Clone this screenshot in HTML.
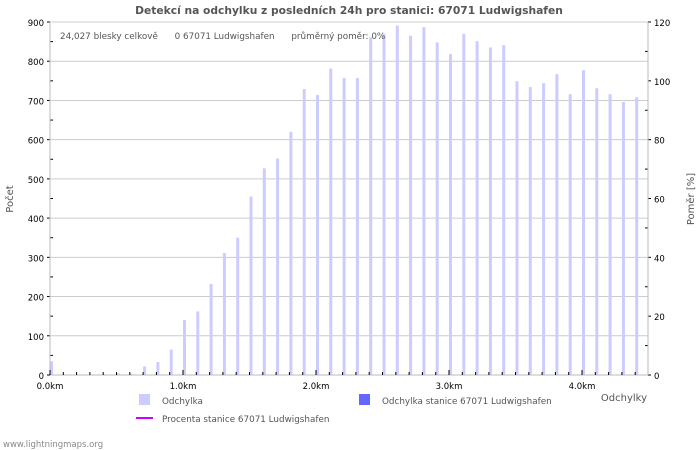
<!DOCTYPE html>
<html><head><meta charset="utf-8"><style>
body{margin:0;background:#fff;}
svg{display:block;font-family:"DejaVu Sans","Liberation Sans",sans-serif;}
</style></head><body>
<svg id="chart" width="700" height="450" viewBox="0 0 700 450" xmlns="http://www.w3.org/2000/svg">
<rect width="700" height="450" fill="#fff"/>
<text x="349" y="14" text-anchor="middle" font-size="10.7" font-weight="bold" fill="#555">Detekcí na odchylku z posledních 24h pro stanici: 67071 Ludwigshafen</text>
<g id="grid"></g>
<g id="bars"></g>
<g id="axes"></g>
<text x="60" y="39" font-size="8.8" fill="#555" xml:space="preserve">24,027 blesky celkově      0 67071 Ludwigshafen      průměrný poměr: 0%</text>
<text transform="translate(13,199) rotate(-90)" text-anchor="middle" font-size="10" fill="#555">Počet</text>
<text transform="translate(694,199) rotate(-90)" text-anchor="middle" font-size="10" fill="#555">Poměr [%]</text>
<text x="647" y="401" text-anchor="end" font-size="10" fill="#555">Odchylky</text>
<g>
<rect x="139" y="394" width="11" height="11" fill="#ccccff"/>
<text x="162" y="404" font-size="8.8" fill="#555">Odchylka</text></g>
<g>
<rect x="359" y="394" width="11" height="11" fill="#6666ff"/>
<text x="382" y="404" font-size="8.8" fill="#555">Odchylka stanice 67071 Ludwigshafen</text></g>
<g>
<rect x="136" y="417" width="17" height="2" fill="#cc00ff"/>
<text x="162" y="422" font-size="8.8" fill="#555">Procenta stanice 67071 Ludwigshafen</text></g>
<text x="3" y="447" font-size="8.5" fill="#888">www.lightningmaps.org</text>
</svg>
<script>
const counts=[35,0,0,0,2,5,3,22,33,65,140,162,232,311,350,455,527,552,620,729,714,781,757,757,861,870,891,865,887,848,818,870,851,835,841,749,734,744,767,716,777,731,716,696,708];
const stationCounts=new Array(45).fill(0);
const leftTicks=[0,100,200,300,400,500,600,700,800,900];
const rightTicks=[0,20,40,60,80,100,120];
const xTickLabels=["0.0km","1.0km","2.0km","3.0km","4.0km"];
const NS="http://www.w3.org/2000/svg";
const L=50,R=648,T=22,B=375;
const y=v=>B-(v/900)*(B-T);
const y2=v=>B-(v/120)*(B-T);
const x=i=>51.5+i*13.3;
function mk(tag,attrs,parent){const e=document.createElementNS(NS,tag);for(const k in attrs)e.setAttribute(k,attrs[k]);parent.appendChild(e);return e;}
const grid=document.getElementById('grid'),bars=document.getElementById('bars'),axes=document.getElementById('axes');
leftTicks.forEach(v=>{
 const g=mk('line',{x1:L,x2:R,y1:y(v),y2:y(v),stroke:'#ccc','stroke-width':1},grid);
 
 
 const t=mk('text',{x:44,y:y(v)+4,'text-anchor':'end','font-size':8.5,fill:'#000'},axes);
 t.textContent=v;
 
 
 mk('line',{x1:L-3,x2:L,y1:y(v),y2:y(v),stroke:'#000'},axes);
 if(v<900) mk('line',{x1:L,x2:L+3,y1:y(v+50),y2:y(v+50),stroke:'#000'},axes);
});
rightTicks.forEach(v=>{
 const t=mk('text',{x:654,y:y2(v)+4,'font-size':8.5,fill:'#000'},axes);
 t.textContent=v;
 
 
 mk('line',{x1:R,x2:R+3,y1:y2(v),y2:y2(v),stroke:'#000'},axes);
 if(v<120) mk('line',{x1:R-3,x2:R,y1:y2(v+10),y2:y2(v+10),stroke:'#000'},axes);
});
mk('line',{x1:L,x2:L,y1:T,y2:B,stroke:'#bbb'},axes);
mk('line',{x1:R,x2:R,y1:T,y2:B,stroke:'#bbb'},axes);
mk('line',{x1:L,x2:R,y1:B,y2:B,stroke:'#bbb'},axes);
counts.forEach((v,i)=>{
 const b=mk('rect',{x:x(i)-1.5,y:y(v),width:3,height:B-y(v),fill:'#ccccff'},bars);
 
 
 if(stationCounts[i]>0){const s=mk('rect',{x:x(i)-1.5,y:y(stationCounts[i]),width:3,height:B-y(stationCounts[i]),fill:'#6666ff'},bars);
 
 }
 mk('line',{x1:L+i*13.3,x2:L+i*13.3,y1:B,y2:B-(i%10==0?5:3),stroke:'#000'},axes);
});
xTickLabels.forEach((s,k)=>{
 const t=mk('text',{x:L+k*133,y:389,'text-anchor':'middle','font-size':8.5,fill:'#000'},axes);
 t.textContent=s;
 
 
});
</script>
</body></html>
